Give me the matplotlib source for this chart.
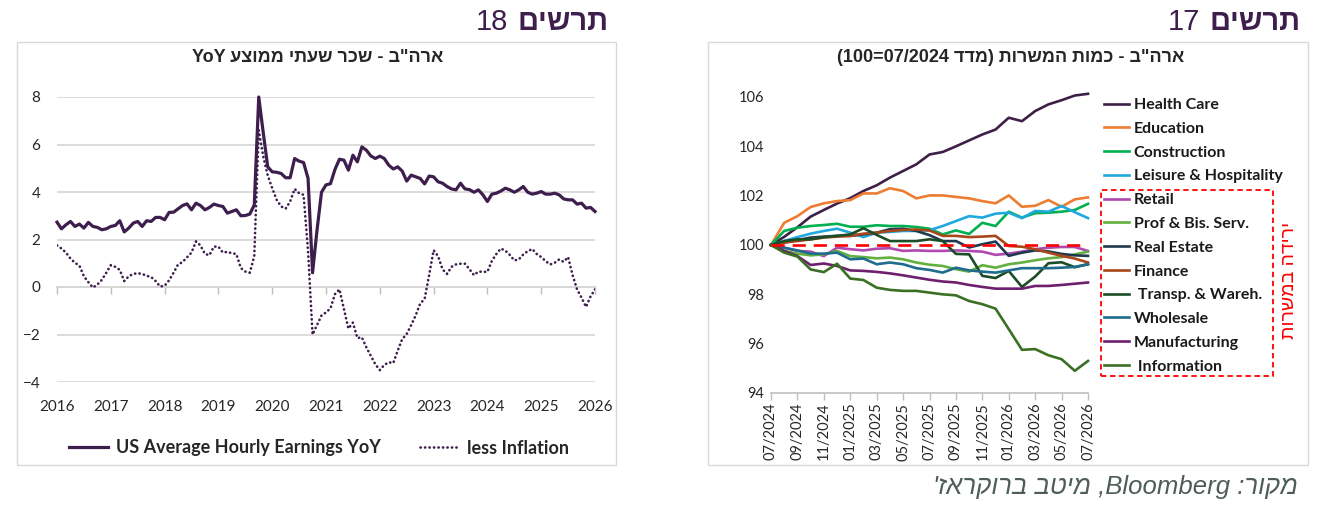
import numpy as np
import matplotlib
matplotlib.use("Agg")
import matplotlib.pyplot as plt
from matplotlib.patches import Rectangle

# ── Data: chart 18 (US average hourly earnings, monthly from Jan 2016) ──
start_year = 2016
year_ticks = list(range(2016, 2027))
ahe_yoy = [
    2.73, 2.45, 2.62, 2.76, 2.55, 2.65, 2.48, 2.72, 2.55, 2.51, 2.41, 2.45,
    2.55, 2.59, 2.79, 2.32, 2.48, 2.69, 2.76, 2.55, 2.79, 2.76, 2.93, 2.93,
    2.83, 3.14, 3.15, 3.29, 3.43, 3.50, 3.25, 3.53, 3.43, 3.25, 3.35, 3.49,
    3.43, 3.39, 3.11, 3.18, 3.25, 3.00, 3.01, 3.07, 3.45, 8.00, 6.50, 5.06,
    4.85, 4.83, 4.78, 4.60, 4.60, 5.41, 5.30, 5.24, 4.57, 0.60, 2.40, 3.99,
    4.30, 4.35, 4.95, 5.38, 5.34, 4.92, 5.55, 5.27, 5.90, 5.76, 5.52, 5.41,
    5.51, 5.41, 5.13, 4.97, 5.06, 4.88, 4.46, 4.71, 4.64, 4.57, 4.34, 4.67,
    4.64, 4.43, 4.37, 4.23, 4.13, 4.09, 4.37, 4.13, 4.10, 3.99, 4.09, 3.88,
    3.60, 3.91, 3.95, 4.04, 4.16, 4.09, 3.99, 4.09, 4.23, 3.99, 3.91, 3.95,
    4.02, 3.91, 3.91, 3.95, 3.88, 3.71, 3.67, 3.67, 3.49, 3.53, 3.32, 3.35,
    3.18,
]
less_inflation = [
    1.75, 1.62, 1.45, 1.20, 1.02, 0.90, 0.45, 0.20, -0.02, 0.10, 0.30, 0.60,
    0.92, 0.85, 0.72, 0.25, 0.45, 0.55, 0.58, 0.55, 0.47, 0.42, 0.25, 0.02,
    0.05, 0.28, 0.60, 0.95, 1.05, 1.25, 1.45, 1.92, 1.75, 1.39, 1.34, 1.70,
    1.70, 1.45, 1.48, 1.42, 1.39, 0.80, 0.65, 0.60, 1.30, 6.60, 5.50, 4.70,
    4.16, 3.67, 3.39, 3.30, 3.60, 4.13, 3.95, 3.88, 1.50, -2.00, -1.60, -1.20,
    -1.07, -0.90, -0.30, -0.10, -0.93, -1.75, -1.50, -2.15, -2.12, -2.54, -2.90, -3.25,
    -3.50, -3.28, -3.17, -3.20, -2.68, -2.19, -1.98, -1.60, -1.20, -0.70, -0.50, 0.50,
    1.55, 1.30, 0.74, 0.55, 0.85, 0.95, 0.98, 0.98, 0.75, 0.50, 0.65, 0.64,
    0.64, 1.10, 1.39, 1.62, 1.53, 1.35, 1.12, 1.16, 1.37, 1.51, 1.60, 1.39,
    1.26, 1.09, 0.95, 1.02, 1.16, 1.06, 1.26, 0.50, -0.10, -0.45, -0.84, -0.40,
    -0.10,
]

# ── Data: chart 17 (employment index, 07/2024 = 100, monthly) ──
months = ["07/2024", "08/2024", "09/2024", "10/2024", "11/2024", "12/2024",
          "01/2025", "02/2025", "03/2025", "04/2025", "05/2025", "06/2025",
          "07/2025", "08/2025", "09/2025", "10/2025", "11/2025", "12/2025",
          "01/2026", "02/2026", "03/2026", "04/2026", "05/2026", "06/2026",
          "07/2026"]
health_care = [100, 100.33, 100.72, 101.15, 101.42, 101.68, 101.90, 102.19, 102.42,
               102.73, 103.00, 103.27, 103.67, 103.77, 104.00, 104.24, 104.48,
               104.68, 105.16, 105.02, 105.43, 105.70, 105.87, 106.06, 106.13]
education = [100, 100.90, 101.17, 101.54, 101.69, 101.78, 101.82, 102.09, 102.09,
             102.30, 102.19, 101.89, 102.01, 102.01, 101.95, 101.89, 101.78,
             101.69, 102.01, 101.55, 101.59, 101.82, 101.55, 101.85, 101.93]
construction = [100, 100.57, 100.70, 100.77, 100.81, 100.86, 100.74, 100.74, 100.80,
                100.77, 100.77, 100.73, 100.66, 100.43, 100.59, 100.45, 100.90,
                100.77, 101.35, 101.11, 101.29, 101.31, 101.35, 101.42, 101.67]
leisure = [100, 100.16, 100.32, 100.46, 100.57, 100.66, 100.50, 100.32, 100.50,
           100.53, 100.57, 100.57, 100.60, 100.77, 100.97, 101.17, 101.11,
           101.27, 101.31, 101.09, 101.38, 101.35, 101.58, 101.33, 101.09]
retail = [100, 99.89, 99.76, 99.73, 99.55, 99.89, 99.83, 99.78, 99.85, 99.87,
          99.76, 99.78, 99.76, 99.76, 99.78, 99.76, 99.73, 99.60, 99.65, 99.73,
          99.83, 99.89, 99.92, 99.92, 99.76]
prof_bis = [100, 99.76, 99.65, 99.58, 99.62, 99.76, 99.55, 99.51, 99.46, 99.49,
            99.42, 99.29, 99.20, 99.15, 99.02, 98.92, 99.18, 99.08, 99.22, 99.29,
            99.38, 99.46, 99.51, 99.62, 99.73]
real_estate = [100, 100.10, 100.20, 100.30, 100.34, 100.37, 100.37, 100.43, 100.50,
               100.64, 100.66, 100.57, 100.40, 100.16, 100.16, 99.90, 100.03,
               100.14, 99.56, 99.69, 99.78, 99.74, 99.64, 99.58, 99.56]
finance = [100, 100.10, 100.16, 100.23, 100.30, 100.34, 100.37, 100.46, 100.50,
           100.57, 100.61, 100.63, 100.59, 100.37, 100.37, 100.32, 100.34,
           100.37, 99.96, 99.93, 99.83, 99.69, 99.56, 99.45, 99.29]
transp = [100, 100.16, 100.23, 100.23, 100.32, 100.37, 100.43, 100.68, 100.41,
          100.16, 100.16, 100.16, 100.23, 100.16, 99.64, 99.62, 98.75, 98.66,
          98.95, 98.30, 98.72, 99.26, 99.30, 99.10, 99.22]
wholesale = [100, 99.89, 99.78, 99.65, 99.65, 99.69, 99.42, 99.45, 99.22, 99.29,
             99.22, 99.06, 98.99, 98.88, 99.08, 98.97, 98.92, 98.88, 98.97, 99.06,
             99.06, 99.06, 99.08, 99.11, 99.22]
manufacturing = [100, 99.76, 99.55, 99.19, 99.25, 99.15, 98.97, 98.95, 98.91, 98.85,
                 98.77, 98.68, 98.59, 98.52, 98.48, 98.38, 98.30, 98.23, 98.23,
                 98.23, 98.34, 98.34, 98.38, 98.43, 98.48]
information = [100, 99.69, 99.53, 99.01, 98.90, 99.24, 98.64, 98.58, 98.27, 98.18,
               98.14, 98.14, 98.07, 98.00, 97.96, 97.73, 97.60, 97.42, 96.59,
               95.75, 95.78, 95.53, 95.37, 94.90, 95.30]
base_level = 100

sector_names = ["Health Care", "Education", "Construction", "Leisure & Hospitality",
                "Retail", "Prof & Bis. Serv.", "Real Estate", "Finance",
                " Transp. & Wareh.", "Wholesale", "Manufacturing", " Information"]
sector_values = [health_care, education, construction, leisure, retail, prof_bis,
                 real_estate, finance, transp, wholesale, manufacturing, information]
sector_colors = ["#3E1F47", "#ED7D31", "#00B050", "#20A8E0", "#B048B0", "#62B040",
                 "#1F3A4F", "#A9471A", "#1B4D26", "#1F6C8F", "#6E1F6E", "#3A7024"]


def rtl(s):
    # matplotlib has no bidi support: put Hebrew in visual order
    return s[::-1].translate(str.maketrans("()", ")("))


LAT = ["Lato", "DejaVu Sans"]
HEB = ["Liberation Sans", "DejaVu Sans"]
PURPLE = "#3D1E4C"
GRID = "#D9D9D9"
TXT = "#262626"

plt.rcParams["font.family"] = LAT

W, H = 1318, 520
fig = plt.figure(figsize=(W / 100, H / 100), dpi=100)


def fx(px):
    return px / W


def fy(py):
    return 1 - py / H


# panel frames
for x0, x1 in [(17, 616), (708, 1308)]:
    fig.add_artist(Rectangle((fx(x0), fy(465)), fx(x1) - fx(x0), fy(42) - fy(465),
                             transform=fig.transFigure, fill=False, ec=GRID, lw=1))

# headers: bold word on the right, chart number just left of it
fig.canvas.draw()
renderer = fig.canvas.get_renderer()
inv = fig.transFigure.inverted()
for right_px, num in [(608, "18"), (1300, "17")]:
    t = fig.text(fx(right_px), fy(22), rtl("תרשים"), ha="right", va="center",
                 fontsize=21, fontweight="bold", color=PURPLE, family=HEB)
    bb = t.get_window_extent(renderer)
    xl, _ = inv.transform((bb.x0 - 9, 0))
    fig.text(xl, fy(22), num, fontsize=21, color=PURPLE, family=HEB,
             ha="right", va="center")

# ── Left chart ──
axL = fig.add_axes([fx(57), fy(382), fx(595) - fx(57), fy(97) - fy(382)])
x_month = start_year + np.arange(len(ahe_yoy)) / 12
axL.plot(x_month, ahe_yoy, color=PURPLE, lw=2.3, solid_joinstyle="round",
         label="US Average Hourly Earnings YoY", zorder=3, clip_on=False)
axL.plot(x_month, less_inflation, color=PURPLE, lw=1.9, dash_capstyle="round",
         linestyle=(0, (0.1, 1.6)), label="less Inflation", zorder=3)
axL.set_xlim(year_ticks[0], year_ticks[-1])
axL.set_ylim(-4, 8)
axL.set_yticks(range(-4, 9, 2))
axL.set_xticks(year_ticks)
axL.grid(axis="y", color=GRID, lw=1.3)
axL.set_axisbelow(True)
for sp in axL.spines.values():
    sp.set_visible(False)
axL.tick_params(axis="both", length=0, labelsize=11, colors=TXT)
axL.tick_params(axis="x", pad=13)
axL.tick_params(axis="y", pad=12)
sec = axL.secondary_xaxis(0, transform=axL.transData)
sec.set_xticks(year_ticks)
sec.tick_params(length=5, width=1, color="#BFBFBF", labelbottom=False)
sec.spines["bottom"].set_color("#BFBFBF")
sec.spines["bottom"].set_linewidth(1.2)
fig.text(fx(318), fy(58), "YoY " + rtl('ארה"ב - שכר שעתי ממוצע'), family=HEB,
         fontsize=13, fontweight="bold", color=TXT, ha="center", va="center")
legL = fig.legend(*axL.get_legend_handles_labels(), loc="center",
                  bbox_to_anchor=(fx(319), fy(448)), ncol=2, frameon=False,
                  prop={"family": LAT, "weight": "bold", "size": 13},
                  handlelength=2.2, handletextpad=0.4, columnspacing=2.2,
                  borderpad=0)
for t in legL.get_texts():
    t.set_color(TXT)

# ── Right chart ──
axR = fig.add_axes([fx(771), fy(393), fx(1088) - fx(771), fy(97) - fy(393)])
xi = np.arange(len(months))
for vals, name, col in zip(sector_values, sector_names, sector_colors):
    axR.plot(xi, vals, color=col, lw=1.9, label=name, solid_joinstyle="round",
             clip_on=False)
axR.plot(xi, [base_level] * len(months), color="#FF0000", lw=1.9,
         linestyle=(0, (5, 3)), zorder=4)
axR.set_xlim(xi[0], xi[-1])
axR.set_ylim(94, 106)
axR.set_yticks(range(94, 107, 2))
axR.set_xticks(xi[::2])
axR.set_xticklabels(months[::2], rotation=90)
for side in ["top", "right", "left"]:
    axR.spines[side].set_visible(False)
axR.spines["bottom"].set_color("#BFBFBF")
axR.spines["bottom"].set_linewidth(1.2)
axR.tick_params(axis="y", length=0, labelsize=10.5, colors=TXT, pad=5)
axR.tick_params(axis="x", length=5, width=1, color="#BFBFBF", labelsize=10.5,
                labelcolor=TXT, pad=2)
fig.text(fx(1011), fy(58), "(100=07/2024 " + rtl('ארה"ב - כמות המשרות (מדד'),
         family=HEB, fontsize=13, fontweight="bold", color=TXT,
         ha="center", va="center")

legR = fig.legend(*axR.get_legend_handles_labels(), loc="upper left",
                  bbox_to_anchor=(fx(1104), fy(98)), ncol=1, frameon=False,
                  prop={"family": LAT, "weight": "bold", "size": 11.5},
                  handlelength=1.55, handletextpad=0.3, labelspacing=0.6,
                  borderpad=0, borderaxespad=0)
for t in legR.get_texts():
    t.set_color("#1A1A1A")

# red dashed box around the declining sectors
fig.add_artist(Rectangle((fx(1101), fy(376)), fx(1273) - fx(1101), fy(190) - fy(376),
                         transform=fig.transFigure, fill=False, ec="#FF0000",
                         lw=1.3, linestyle=(0, (3, 2))))
fig.text(fx(1289), fy(280), rtl("ירידה במשרות"), rotation=90, ha="center",
         va="center", color="#FF0000", fontsize=14, family=HEB)

# source
fig.text(fx(1298), fy(487), rtl("מיטב ברוקראז'") + " ,Bloomberg " + rtl("מקור:"),
         ha="right", va="center", fontsize=18.5, style="italic", color="#4E5E55",
         family=HEB)

fig.savefig("out.png", dpi=100)
